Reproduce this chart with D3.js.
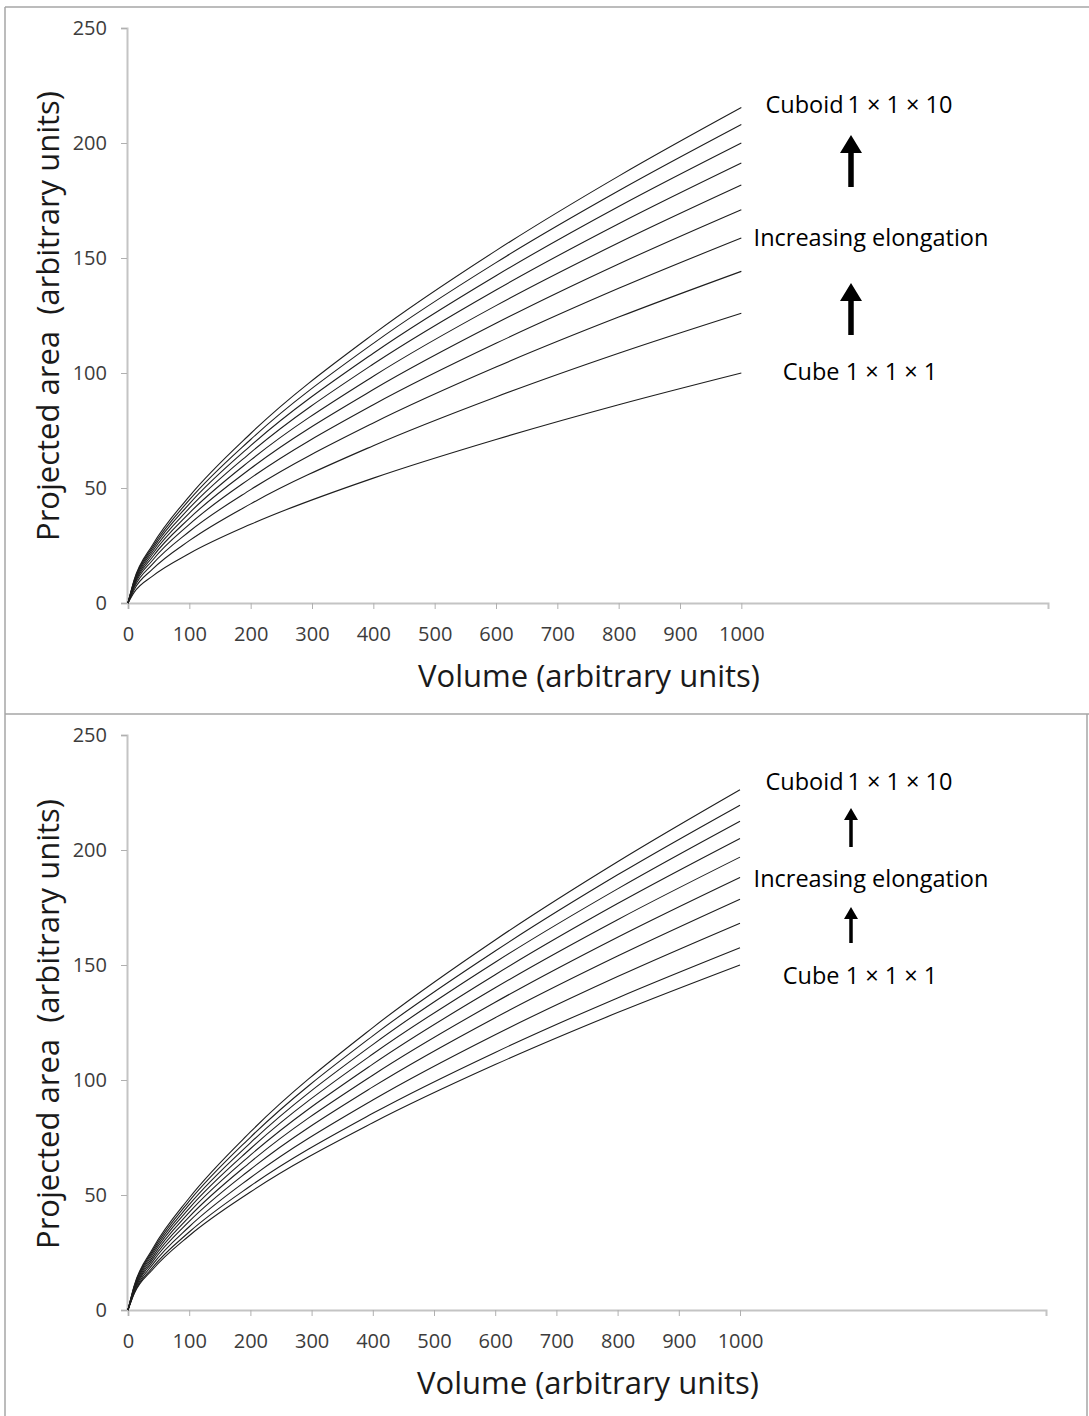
<!DOCTYPE html>
<html>
<head>
<meta charset="utf-8">
<script src="https://cdn.jsdelivr.net/npm/d3@7"></script>
<style>
  html, body { margin: 0; padding: 0; background: #fff; }
  svg { display: block; }
  .tick text { font-family: "Open Sans", sans-serif; fill: #3c3c3c; }
</style>
</head>
<body>
<svg id="chart" width="1089" height="1416"></svg>
<script>
// Sample volumes shared by every curve
const volumes = [0, 10, 40, 100, 200, 400, 600, 800, 1000];

// Maximum projected area, cuboids 1×1×1 … 1×1×10 (one row per elongation)
const maxProjectedArea = [
  [0, 4.6, 11.7, 21.5, 34.2, 54.3, 71.1, 86.2, 100.0],
  [0, 5.8, 14.7, 27.1, 43.1, 68.4, 89.6, 108.6, 126.0],
  [0, 6.7, 16.9, 31.1, 49.3, 78.3, 102.6, 124.3, 144.2],
  [0, 7.4, 18.6, 34.2, 54.3, 86.2, 112.9, 136.8, 158.7],
  [0, 7.9, 20.0, 36.8, 58.5, 92.8, 121.6, 147.4, 171.0],
  [0, 8.4, 21.3, 39.1, 62.1, 98.6, 129.3, 156.6, 181.7],
  [0, 8.9, 22.4, 41.2, 65.4, 103.9, 136.1, 164.9, 191.3],
  [0, 9.3, 23.4, 43.1, 68.4, 108.6, 142.3, 172.4, 200.0],
  [0, 9.7, 24.3, 44.8, 71.1, 112.9, 148.0, 179.2, 208.0],
  [0, 10.0, 25.2, 46.4, 73.7, 116.9, 153.2, 185.6, 215.4]
];

// Mean projected area, same cuboids
const meanProjectedArea = [
  [0, 7.0, 17.5, 32.3, 51.3, 81.4, 106.7, 129.3, 150.0],
  [0, 7.3, 18.4, 33.9, 53.9, 85.5, 112.0, 135.7, 157.5],
  [0, 7.8, 19.7, 36.2, 57.5, 91.3, 119.7, 145.0, 168.2],
  [0, 8.3, 20.9, 38.5, 61.1, 97.0, 127.1, 153.9, 178.6],
  [0, 8.7, 22.0, 40.5, 64.3, 102.1, 133.8, 162.1, 188.1],
  [0, 9.1, 23.0, 42.4, 67.3, 106.9, 140.1, 169.7, 196.9],
  [0, 9.5, 24.0, 44.2, 70.1, 111.3, 145.8, 176.7, 205.0],
  [0, 9.9, 24.9, 45.8, 72.7, 115.4, 151.2, 183.1, 212.5],
  [0, 10.2, 25.7, 47.3, 75.1, 119.2, 156.1, 189.2, 219.5],
  [0, 10.5, 26.5, 48.7, 77.4, 122.8, 160.9, 194.9, 226.2]
];

const xTicks = [0, 100, 200, 300, 400, 500, 600, 700, 800, 900, 1000];
const yTicks = [0, 50, 100, 150, 200, 250];

const xTitle = "Volume (arbitrary units)";
const yTitle = "Projected area\u00a0 (arbitrary units)";
const labelTop = "Cuboid\u2009" + "1 × 1 × 10";
const labelMid = "Increasing elongation";
const labelBottom = "Cube 1 × 1 × 1";

const svg = d3.select("#chart");
const FONT = "'Open Sans', sans-serif";

// Panel frames
const frame = svg.append("g").attr("stroke", "#a6a6a6").attr("stroke-width", 1.5).attr("fill", "none");
frame.append("line").attr("x1", 5).attr("y1", 7).attr("x2", 1089).attr("y2", 7);
frame.append("line").attr("x1", 5).attr("y1", 7).attr("x2", 5).attr("y2", 1416);
frame.append("line").attr("x1", 5).attr("y1", 714).attr("x2", 1089).attr("y2", 714);
frame.append("line").attr("x1", 1087).attr("y1", 714).attr("x2", 1087).attr("y2", 1416);

function drawArrow(g, cx, tipY, endY, shaftW, headW, headH) {
  const p = d3.path();
  p.moveTo(cx, tipY);
  p.lineTo(cx + headW / 2, tipY + headH);
  p.lineTo(cx + shaftW / 2, tipY + headH);
  p.lineTo(cx + shaftW / 2, endY);
  p.lineTo(cx - shaftW / 2, endY);
  p.lineTo(cx - shaftW / 2, tipY + headH);
  p.lineTo(cx - headW / 2, tipY + headH);
  p.closePath();
  g.append("path").attr("d", p.toString()).attr("fill", "#000");
}

function drawPanel(cfg) {
  const g = svg.append("g");
  const x = d3.scaleLinear().domain([0, 1500]).range([cfg.left, cfg.right]);
  const y = d3.scaleLinear().domain([0, 250]).range([cfg.bottom, cfg.top]);

  // Axes
  const xAxis = d3.axisBottom(x).tickValues(xTicks).tickSize(6).tickPadding(18).tickFormat(d3.format("d"));
  const yAxis = d3.axisLeft(y).tickValues(yTicks).tickSize(6).tickPadding(14).tickFormat(d3.format("d"));

  const gx = g.append("g").attr("transform", `translate(0,${cfg.bottom})`).call(xAxis);
  const gy = g.append("g").attr("transform", `translate(${cfg.left - 1},0)`).call(yAxis);
  [gx, gy].forEach(a => {
    a.select(".domain").attr("stroke", "#c4c4c4").attr("stroke-width", 2);
    a.selectAll(".tick line").attr("stroke", "#b0b0b0").attr("stroke-width", 1);
    a.selectAll(".tick text").attr("font-size", 20).attr("font-family", FONT).attr("fill", "#3c3c3c");
  });
  gx.selectAll(".tick text").attr("dy", "0.71em");

  // Curves
  const line = d3.line()
    .x((d, i) => x(volumes[i]))
    .y(d => y(d))
    .curve(d3.curveMonotoneX);
  g.append("g").selectAll("path").data(cfg.series).join("path")
    .attr("d", line)
    .attr("fill", "none")
    .attr("stroke", "#1e1e1e")
    .attr("stroke-width", 1.1);

  // Axis titles
  g.append("text")
    .attr("x", cfg.xTitleX).attr("y", cfg.xTitleY)
    .attr("text-anchor", "middle").attr("dominant-baseline", "central")
    .attr("font-family", FONT).attr("font-size", 31).attr("fill", "#1a1a1a")
    .text(xTitle);
  g.append("text")
    .attr("transform", `translate(${cfg.yTitleX},${cfg.yTitleY}) rotate(-90)`)
    .attr("text-anchor", "middle").attr("dominant-baseline", "central")
    .attr("font-family", FONT).attr("font-size", 31).attr("fill", "#1a1a1a")
    .text(yTitle);

  // Annotation
  const ann = g.append("g").attr("font-family", FONT).attr("font-size", 23.5)
    .attr("fill", "#000").attr("text-anchor", "middle").attr("dominant-baseline", "central");
  ann.append("text").attr("x", 859).attr("y", cfg.annY[0]).text(labelTop);
  ann.append("text").attr("x", 871).attr("y", cfg.annY[1]).text(labelMid);
  ann.append("text").attr("x", 860).attr("y", cfg.annY[2]).text(labelBottom);
  cfg.arrows.forEach(a => drawArrow(g, 851, a[0], a[1], cfg.shaftW, cfg.headW, cfg.headH));
}

drawPanel({
  left: 128, right: 1048, top: 28, bottom: 603,
  series: maxProjectedArea,
  xTitleX: 589, xTitleY: 675, yTitleX: 47, yTitleY: 316,
  annY: [104, 237, 371],
  arrows: [[135, 187], [283, 335]],
  shaftW: 5.5, headW: 22, headH: 18
});

drawPanel({
  left: 128, right: 1046, top: 735, bottom: 1310,
  series: meanProjectedArea,
  xTitleX: 588, xTitleY: 1382, yTitleX: 47, yTitleY: 1024,
  annY: [781, 878, 975],
  arrows: [[808, 847], [907, 943]],
  shaftW: 3.5, headW: 14, headH: 12
});
</script>
</body>
</html>
